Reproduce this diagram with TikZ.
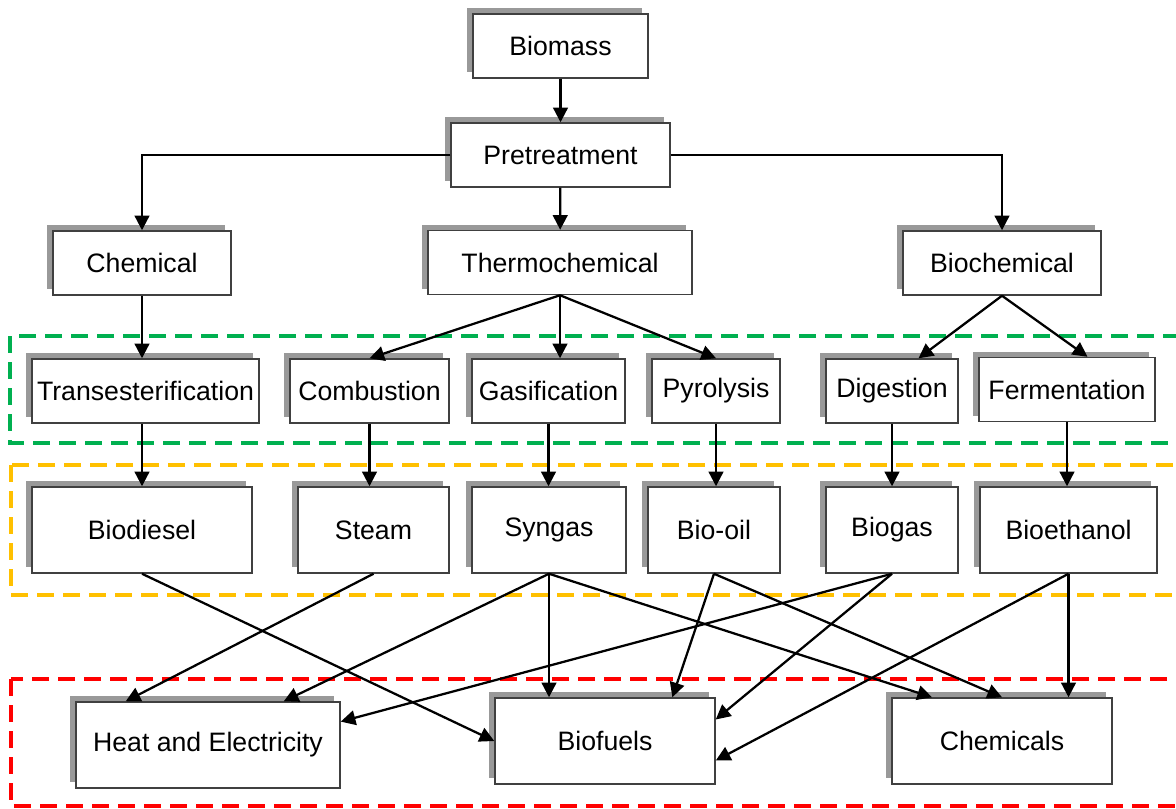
\documentclass[tikz,border=0pt]{standalone}
\usepackage{fontspec}
\setmainfont{Liberation Sans}
\usetikzlibrary{arrows.meta,shadows}

\begin{document}
\begin{tikzpicture}[x=0.75pt,y=0.75pt,yscale=-1,xscale=1,
  blk/.style={draw={rgb, 255:red, 64; green, 64; blue, 64},line width=1.1pt,fill=white,
    inner sep=0pt,minimum height=48pt,font=\fontsize{20}{24}\selectfont,
    drop shadow={shadow xshift=-4.5pt,shadow yshift=4.5pt,
      fill={rgb, 255:red, 153; green, 153; blue, 153},opacity=1}},
  tall/.style={blk,minimum height=64.5pt},
  flow/.style={line width=1.7pt,-{Triangle[length=11pt,width=11pt]}},
  grp/.style={line width=2.4pt,dash pattern=on 13pt off 6.5pt}]
\path[use as bounding box,clip] (0,0) rectangle (1176,808);

%Dashed groups
\draw [grp,color={rgb, 255:red, 0; green, 176; blue, 80 }] (10,336) rectangle (1190,443) ;
\draw [grp,color={rgb, 255:red, 255; green, 192; blue, 0 }] (11,465) rectangle (1190,595) ;
\draw [grp,color={rgb, 255:red, 255; green, 0; blue, 0 }] (11,679) rectangle (1190,806) ;

%Top of the tree
\node [blk,minimum width=131.25pt] (biomass) at (560.5,46) {Biomass};
\node [blk,minimum width=164.25pt] (pretreat) at (560.5,155) {Pretreatment};
\node [blk,minimum width=133.5pt] (chem) at (142,263) {Chemical};
\node [blk,minimum width=198pt] (thermo) at (560,262.5) {Thermochemical};
\node [blk,minimum width=148.5pt] (biochem) at (1002,263) {Biochemical};

%Processes
\node [blk,minimum width=170.25pt] (trans) at (145.5,391) {Transesterification};
\node [blk,minimum width=119.25pt] (combust) at (369.5,391) {Combustion};
\node [blk,minimum width=114.75pt] (gasif) at (548.5,391) {Gasification};
\node [blk,minimum width=96pt] (pyro) at (716,391) {Pyrolysis};
\node [blk,minimum width=99pt] (digest) at (892,391) {Digestion};
\node [blk,minimum width=132pt] (ferment) at (1067,389.5) {Fermentation};

%Intermediate products
\node [tall,minimum width=165pt] (biodiesel) at (142,530) {Biodiesel};
\node [tall,minimum width=113.25pt] (steam) at (373.5,530) {Steam};
\node [tall,minimum width=115.5pt] (syngas) at (549,530) {Syngas};
\node [tall,minimum width=99pt] (biooil) at (714,530) {Bio-oil};
\node [tall,minimum width=99pt] (biogas) at (892,530) {Biogas};
\node [tall,minimum width=132.75pt] (bioeth) at (1068.5,530) {Bioethanol};

%End products
\node [tall,minimum width=198pt] (heat) at (208,745) {Heat and Electricity};
\node [tall,minimum width=165pt] (biofuels) at (605,741) {Biofuels};
\node [tall,minimum width=165pt] (chemicals) at (1002,741) {Chemicals};

%Arrows
\draw [flow] (biomass) -- (pretreat) ;
\draw [flow] (pretreat.west) -| (chem.north) ;
\draw [flow] (pretreat.east) -| (biochem.north) ;
\draw [flow] (pretreat) -- (thermo) ;
\draw [flow] (chem.south) -- (chem.south |- trans.north) ;
\draw [flow] (thermo.south) -- (combust.north) ;
\draw [flow] (thermo.south) -- (thermo.south |- gasif.north) ;
\draw [flow] (thermo.south) -- (pyro.north) ;
\draw [flow] (biochem.south) -- (digest.51) ;
\draw [flow] (biochem.south) -- (ferment.58) ;
\draw [flow] (chem.south |- trans.south) -- (chem.south |- biodiesel.north) ;
\draw [flow] (combust.south) -- (combust.south |- steam.north) ;
\draw [flow] (gasif.south) -- (gasif.south |- syngas.north) ;
\draw [flow] (pyro.south) -- (pyro.south |- biooil.north) ;
\draw [flow] (digest.south) -- (digest.south |- biogas.north) ;
\draw [flow] (ferment.south) -- (ferment.south |- bioeth.north) ;

\draw [flow] (biodiesel.south) -- (biofuels.west) ;
\draw [flow] (steam.south) -- (heat.152) ;
\draw [flow] (syngas.south) -- (heat.30) ;
\draw [flow] (syngas.south) -- (syngas.south |- biofuels.north) ;
\draw [flow] (syngas.south) -- (chemicals.148) ;
\draw [flow] (biooil.south) -- (biofuels.33) ;
\draw [flow] (biooil.south) -- (chemicals.north) ;
\draw [flow] (biogas.south) -- (heat.10) ;
\draw [flow] (biogas.south) -- (biofuels.11) ;
\draw [flow] (bioeth.south) -- (biofuels.-10) ;
\draw [flow] (bioeth.south) -- (bioeth.south |- chemicals.north) ;
\end{tikzpicture}
\end{document}
